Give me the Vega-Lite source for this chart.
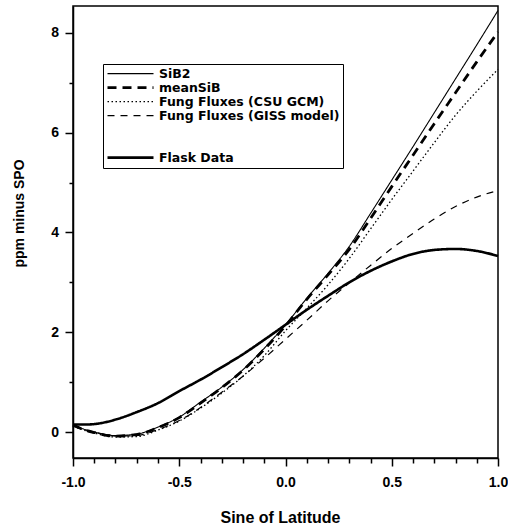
{
  "$schema": "https://vega.github.io/schema/vega-lite/v6.json",
  "width": 425,
  "height": 452,
  "autosize": {"type": "none"},
  "padding": {"left": 73, "top": 6, "right": 10, "bottom": 68},
  "background": "white",
  "config": {
    "view": {"stroke": "black", "strokeWidth": 1.5},
    "axis": {
      "grid": false,
      "domainColor": "black",
      "domainWidth": 1.5,
      "tickColor": "black",
      "tickWidth": 1.5,
      "labelColor": "black",
      "labelFont": "Liberation Sans",
      "labelFontWeight": "bold",
      "labelFontSize": 14,
      "titleColor": "black",
      "titleFont": "Liberation Sans",
      "titleFontWeight": "bold"
    }
  },
  "data": {
    "values": [
      {"s": "SiB2", "x": -1.0, "y": 0.15}, {"s": "SiB2", "x": -0.95, "y": 0.06}, {"s": "SiB2", "x": -0.9, "y": 0.0},
      {"s": "SiB2", "x": -0.8, "y": -0.07}, {"s": "SiB2", "x": -0.7, "y": -0.04}, {"s": "SiB2", "x": -0.6, "y": 0.10},
      {"s": "SiB2", "x": -0.5, "y": 0.30}, {"s": "SiB2", "x": -0.4, "y": 0.60}, {"s": "SiB2", "x": -0.3, "y": 0.90},
      {"s": "SiB2", "x": -0.2, "y": 1.25}, {"s": "SiB2", "x": -0.1, "y": 1.68}, {"s": "SiB2", "x": 0.0, "y": 2.15},
      {"s": "SiB2", "x": 0.1, "y": 2.68}, {"s": "SiB2", "x": 0.2, "y": 3.18}, {"s": "SiB2", "x": 0.3, "y": 3.72},
      {"s": "SiB2", "x": 0.4, "y": 4.38}, {"s": "SiB2", "x": 0.5, "y": 5.05}, {"s": "SiB2", "x": 0.6, "y": 5.72},
      {"s": "SiB2", "x": 0.7, "y": 6.40}, {"s": "SiB2", "x": 0.8, "y": 7.08}, {"s": "SiB2", "x": 0.9, "y": 7.76},
      {"s": "SiB2", "x": 1.0, "y": 8.45},

      {"s": "meanSiB", "x": -1.0, "y": 0.14}, {"s": "meanSiB", "x": -0.95, "y": 0.05}, {"s": "meanSiB", "x": -0.9, "y": -0.01},
      {"s": "meanSiB", "x": -0.8, "y": -0.08}, {"s": "meanSiB", "x": -0.7, "y": -0.05}, {"s": "meanSiB", "x": -0.6, "y": 0.09},
      {"s": "meanSiB", "x": -0.5, "y": 0.29}, {"s": "meanSiB", "x": -0.4, "y": 0.58}, {"s": "meanSiB", "x": -0.3, "y": 0.89},
      {"s": "meanSiB", "x": -0.2, "y": 1.24}, {"s": "meanSiB", "x": -0.1, "y": 1.66}, {"s": "meanSiB", "x": 0.0, "y": 2.13},
      {"s": "meanSiB", "x": 0.1, "y": 2.66}, {"s": "meanSiB", "x": 0.2, "y": 3.15}, {"s": "meanSiB", "x": 0.3, "y": 3.66},
      {"s": "meanSiB", "x": 0.4, "y": 4.28}, {"s": "meanSiB", "x": 0.5, "y": 4.92}, {"s": "meanSiB", "x": 0.6, "y": 5.55},
      {"s": "meanSiB", "x": 0.7, "y": 6.18}, {"s": "meanSiB", "x": 0.8, "y": 6.80}, {"s": "meanSiB", "x": 0.9, "y": 7.42},
      {"s": "meanSiB", "x": 1.0, "y": 8.02},

      {"s": "Fung Fluxes (CSU GCM)", "x": -1.0, "y": 0.12}, {"s": "Fung Fluxes (CSU GCM)", "x": -0.95, "y": 0.04}, {"s": "Fung Fluxes (CSU GCM)", "x": -0.9, "y": -0.02},
      {"s": "Fung Fluxes (CSU GCM)", "x": -0.8, "y": -0.10}, {"s": "Fung Fluxes (CSU GCM)", "x": -0.7, "y": -0.09}, {"s": "Fung Fluxes (CSU GCM)", "x": -0.6, "y": 0.04},
      {"s": "Fung Fluxes (CSU GCM)", "x": -0.5, "y": 0.22}, {"s": "Fung Fluxes (CSU GCM)", "x": -0.4, "y": 0.48}, {"s": "Fung Fluxes (CSU GCM)", "x": -0.3, "y": 0.78},
      {"s": "Fung Fluxes (CSU GCM)", "x": -0.2, "y": 1.12}, {"s": "Fung Fluxes (CSU GCM)", "x": -0.1, "y": 1.53}, {"s": "Fung Fluxes (CSU GCM)", "x": 0.0, "y": 2.03},
      {"s": "Fung Fluxes (CSU GCM)", "x": 0.1, "y": 2.48}, {"s": "Fung Fluxes (CSU GCM)", "x": 0.2, "y": 2.95}, {"s": "Fung Fluxes (CSU GCM)", "x": 0.3, "y": 3.48},
      {"s": "Fung Fluxes (CSU GCM)", "x": 0.4, "y": 4.07}, {"s": "Fung Fluxes (CSU GCM)", "x": 0.5, "y": 4.66}, {"s": "Fung Fluxes (CSU GCM)", "x": 0.6, "y": 5.23},
      {"s": "Fung Fluxes (CSU GCM)", "x": 0.7, "y": 5.80}, {"s": "Fung Fluxes (CSU GCM)", "x": 0.8, "y": 6.35}, {"s": "Fung Fluxes (CSU GCM)", "x": 0.9, "y": 6.83},
      {"s": "Fung Fluxes (CSU GCM)", "x": 1.0, "y": 7.27},

      {"s": "Fung Fluxes (GISS model)", "x": -1.0, "y": 0.12}, {"s": "Fung Fluxes (GISS model)", "x": -0.95, "y": 0.05}, {"s": "Fung Fluxes (GISS model)", "x": -0.9, "y": 0.0},
      {"s": "Fung Fluxes (GISS model)", "x": -0.8, "y": -0.08}, {"s": "Fung Fluxes (GISS model)", "x": -0.7, "y": -0.07}, {"s": "Fung Fluxes (GISS model)", "x": -0.6, "y": 0.05},
      {"s": "Fung Fluxes (GISS model)", "x": -0.5, "y": 0.23}, {"s": "Fung Fluxes (GISS model)", "x": -0.4, "y": 0.49}, {"s": "Fung Fluxes (GISS model)", "x": -0.3, "y": 0.80},
      {"s": "Fung Fluxes (GISS model)", "x": -0.2, "y": 1.12}, {"s": "Fung Fluxes (GISS model)", "x": -0.1, "y": 1.48}, {"s": "Fung Fluxes (GISS model)", "x": 0.0, "y": 1.86},
      {"s": "Fung Fluxes (GISS model)", "x": 0.1, "y": 2.24}, {"s": "Fung Fluxes (GISS model)", "x": 0.2, "y": 2.63}, {"s": "Fung Fluxes (GISS model)", "x": 0.3, "y": 2.99},
      {"s": "Fung Fluxes (GISS model)", "x": 0.4, "y": 3.34}, {"s": "Fung Fluxes (GISS model)", "x": 0.5, "y": 3.68}, {"s": "Fung Fluxes (GISS model)", "x": 0.6, "y": 3.98},
      {"s": "Fung Fluxes (GISS model)", "x": 0.7, "y": 4.27}, {"s": "Fung Fluxes (GISS model)", "x": 0.8, "y": 4.52}, {"s": "Fung Fluxes (GISS model)", "x": 0.9, "y": 4.71},
      {"s": "Fung Fluxes (GISS model)", "x": 1.0, "y": 4.84},

      {"s": "Flask Data", "x": -1.0, "y": 0.15}, {"s": "Flask Data", "x": -0.95, "y": 0.15}, {"s": "Flask Data", "x": -0.9, "y": 0.16},
      {"s": "Flask Data", "x": -0.8, "y": 0.25}, {"s": "Flask Data", "x": -0.7, "y": 0.40}, {"s": "Flask Data", "x": -0.6, "y": 0.58},
      {"s": "Flask Data", "x": -0.5, "y": 0.82}, {"s": "Flask Data", "x": -0.4, "y": 1.05}, {"s": "Flask Data", "x": -0.3, "y": 1.30},
      {"s": "Flask Data", "x": -0.2, "y": 1.56}, {"s": "Flask Data", "x": -0.1, "y": 1.85}, {"s": "Flask Data", "x": 0.0, "y": 2.15},
      {"s": "Flask Data", "x": 0.1, "y": 2.45}, {"s": "Flask Data", "x": 0.2, "y": 2.73}, {"s": "Flask Data", "x": 0.3, "y": 3.00},
      {"s": "Flask Data", "x": 0.4, "y": 3.23}, {"s": "Flask Data", "x": 0.5, "y": 3.42}, {"s": "Flask Data", "x": 0.6, "y": 3.57},
      {"s": "Flask Data", "x": 0.7, "y": 3.65}, {"s": "Flask Data", "x": 0.8, "y": 3.67}, {"s": "Flask Data", "x": 0.9, "y": 3.63},
      {"s": "Flask Data", "x": 1.0, "y": 3.53}
    ]
  },
  "mark": {"type": "line", "interpolate": "monotone"},
  "encoding": {
    "x": {
      "field": "x",
      "type": "quantitative",
      "scale": {"domain": [-1, 1], "nice": false, "zero": false},
      "axis": {
        "title": "Sine of Latitude",
        "titleFontSize": 16,
        "titleBaseline": "alphabetic",
        "titleY": 64,
        "titleX": 207,
        "values": [-1, -0.9, -0.8, -0.7, -0.6, -0.5, -0.4, -0.3, -0.2, -0.1, 0, 0.1, 0.2, 0.3, 0.4, 0.5, 0.6, 0.7, 0.8, 0.9, 1],
        "labelExpr": "abs(datum.value*2 - round(datum.value*2)) < 0.01 ? (datum.value < -0.01 ? '-' : '') + format(abs(datum.value), '.1f') : ''",
        "tickSize": {"condition": {"test": "abs(datum.value*2 - round(datum.value*2)) < 0.01", "value": 8}, "value": 5},
        "labelPadding": 9,
        "labelFlush": false,
        "labelOverlap": false
      }
    },
    "y": {
      "field": "y",
      "type": "quantitative",
      "scale": {"domain": [-0.52, 8.54], "nice": false, "zero": false},
      "axis": {
        "title": "ppm minus SPO",
        "titleFontSize": 14,
        "titleX": -47,
        "titleY": 207,
        "values": [0, 1, 2, 3, 4, 5, 6, 7, 8],
        "labelExpr": "datum.value % 2 == 0 ? format(datum.value, 'd') : ''",
        "tickSize": {"condition": {"test": "datum.value % 2 == 0", "value": 8}, "value": 4},
        "labelPadding": 6.5,
        "labelOverlap": false
      }
    },
    "color": {
      "field": "s",
      "type": "nominal",
      "scale": {
        "domain": ["SiB2", "meanSiB", "Fung Fluxes (CSU GCM)", "Fung Fluxes (GISS model)", " ", "  ", "Flask Data"],
        "range": ["black", "black", "black", "black", "rgba(0,0,0,0)", "rgba(0,0,0,0)", "black"]
      },
      "legend": {
        "title": null, "orient": "none", "legendX": 30, "legendY": 58,
        "symbolType": "stroke", "symbolSize": 2116, "clipHeight": 13.3, "rowPadding": 0,
        "padding": 3, "labelOffset": 4, "labelFont": "DejaVu Sans", "labelFontWeight": "bold",
        "labelFontSize": 12.5, "labelColor": "black", "labelLimit": 0, "strokeColor": "black"
      }
    },
    "strokeDash": {
      "field": "s",
      "type": "nominal",
      "scale": {
        "domain": ["SiB2", "meanSiB", "Fung Fluxes (CSU GCM)", "Fung Fluxes (GISS model)", " ", "  ", "Flask Data"],
        "range": [[1, 0], [9, 6], [1.5, 2.5], [7, 6], [1, 0], [1, 0], [1, 0]]
      },
      "legend": {
        "title": null, "orient": "none", "legendX": 30, "legendY": 58,
        "symbolType": "stroke", "symbolSize": 2116, "clipHeight": 13.3, "rowPadding": 0,
        "padding": 3, "labelOffset": 4, "labelFont": "DejaVu Sans", "labelFontWeight": "bold",
        "labelFontSize": 12.5, "labelColor": "black", "labelLimit": 0, "strokeColor": "black"
      }
    },
    "strokeWidth": {
      "field": "s",
      "type": "nominal",
      "scale": {
        "type": "ordinal",
        "domain": ["SiB2", "meanSiB", "Fung Fluxes (CSU GCM)", "Fung Fluxes (GISS model)", " ", "  ", "Flask Data"],
        "range": [1.1, 2.8, 1.3, 1.2, 1, 1, 2.6]
      },
      "legend": {
        "title": null, "orient": "none", "legendX": 30, "legendY": 58,
        "symbolType": "stroke", "symbolSize": 2116, "clipHeight": 13.3, "rowPadding": 0,
        "padding": 3, "labelOffset": 4, "labelFont": "DejaVu Sans", "labelFontWeight": "bold",
        "labelFontSize": 12.5, "labelColor": "black", "labelLimit": 0, "strokeColor": "black"
      }
    }
  }
}
